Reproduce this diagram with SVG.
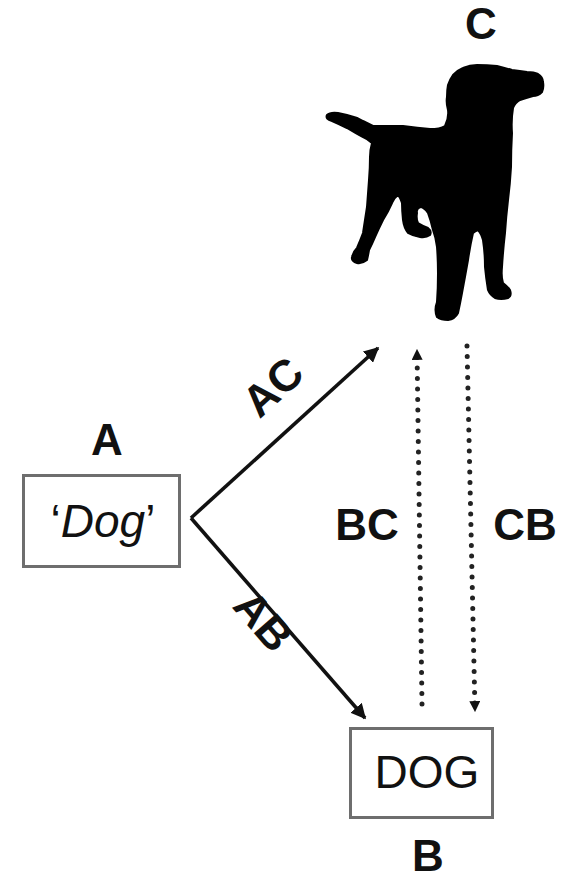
<svg xmlns="http://www.w3.org/2000/svg" width="562" height="880" viewBox="0 0 562 880">
  <style>
    .lbl { font-family: "Liberation Sans", Arial, sans-serif; font-weight: bold; font-size: 44px; fill: #111; text-anchor: middle; }
    .word { font-family: "Liberation Sans", Arial, sans-serif; font-size: 46px; fill: #111; text-anchor: middle; }
    .box { fill: #fff; stroke: #6e6e6e; stroke-width: 3; }
    .solid { fill: none; stroke: #111; stroke-width: 3.6; }
    .dots { fill: none; stroke: #222; stroke-width: 5; stroke-linecap: round; stroke-dasharray: 0 10.5; }
  </style>
  <defs>
    <marker id="head" viewBox="0 0 10 10" refX="9" refY="5" markerWidth="4.2" markerHeight="4.2" markerUnits="strokeWidth" orient="auto">
      <path d="M0,0 L10,5 L0,10 Z" fill="#111"/>
    </marker>
    <marker id="headSmall" viewBox="0 0 10 10" refX="9" refY="5" markerWidth="2.2" markerHeight="2.2" markerUnits="strokeWidth" orient="auto">
      <path d="M0,0 L10,5 L0,10 Z" fill="#111"/>
    </marker>
  </defs>
  <rect width="562" height="880" fill="#fff"/>

  <!-- C: dog silhouette -->
  <g id="nodeC">
    <path fill="#000" stroke="#000" stroke-width="2" stroke-linejoin="round"
      d="M327,115 Q330,112 338,113 L347,115 Q356,117 363,121 L373,126 Q388,126 403,126 Q418,128 430,129 Q440,129 445,126
         Q449,118 448,110 Q446,103 447,97 Q447,90 448,85 Q450,79 453,75 Q458,70 463,68 Q470,65 477,65 Q487,65 497,66
         Q505,68 512,70 Q520,71 527,72 Q534,72 538,74 Q543,77 543,82 Q544,88 542,92 Q538,96 533,96 Q526,98 520,100
         Q515,103 513,108 Q511,120 512,133 Q511,150 511,167 Q510,185 508,200 Q506,217 505,233 Q503,250 502,267
         Q501,277 503,283 Q507,286 510,290 Q512,296 508,298 Q501,300 495,298 Q490,295 488,290 Q486,278 485,267
         Q485,253 483,240 Q481,233 478,230 Q475,231 473,233 Q470,246 468,260 Q465,277 462,293 Q460,304 458,313
         Q455,319 448,320 Q441,320 437,317 Q434,310 437,302 Q438,288 438,273 Q438,260 437,247 Q436,238 433,230
         Q431,221 428,213 Q424,207 420,207 Q416,209 417,213 Q416,219 418,223 Q423,226 428,228 Q432,231 430,235
         Q426,238 420,237 Q413,236 408,233 Q404,228 403,220 Q402,211 402,203 Q400,197 398,195 Q394,198 392,203
         Q388,212 383,220 Q379,228 375,237 Q372,244 369,250 Q368,256 367,260 Q362,264 357,263 Q351,261 352,257
         Q353,252 357,248 Q360,241 363,233 Q365,220 367,207 Q368,193 369,180 Q370,168 370,157 Q370,150 372,143
         Q368,139 363,137 Q355,133 347,128 Q339,124 332,121 Q325,119 327,115 Z"/>
    <text class="lbl" x="481" y="39">C</text>
  </g>

  <!-- A: written word -->
  <g id="nodeA">
    <text class="lbl" x="107" y="455">A</text>
    <rect class="box" x="23.5" y="475.5" width="156" height="91"/>
    <text class="word" x="103" y="537">‘<tspan font-style="italic">Dog</tspan>’</text>
  </g>

  <!-- B: printed word -->
  <g id="nodeB">
    <rect class="box" x="350.5" y="728.5" width="142" height="89"/>
    <text class="word" x="427" y="788">DOG</text>
    <text class="lbl" x="428" y="871">B</text>
  </g>

  <!-- relations -->
  <g id="connectors">
    <path class="solid" d="M191,518 L378,348" marker-end="url(#head)"/>
    <path class="solid" d="M191,518 L365,718" marker-end="url(#head)"/>
    <path class="dots" d="M422,704 L417,350" marker-end="url(#headSmall)"/>
    <path class="dots" d="M467,346 L475,711" marker-end="url(#headSmall)"/>
    <text class="lbl" transform="translate(283,398) rotate(-42.3)" x="0" y="0">AC</text>
    <text class="lbl" transform="translate(252,631) rotate(49)" x="0" y="0">AB</text>
    <text class="lbl" x="367" y="540">BC</text>
    <text class="lbl" x="525" y="540">CB</text>
  </g>
</svg>
